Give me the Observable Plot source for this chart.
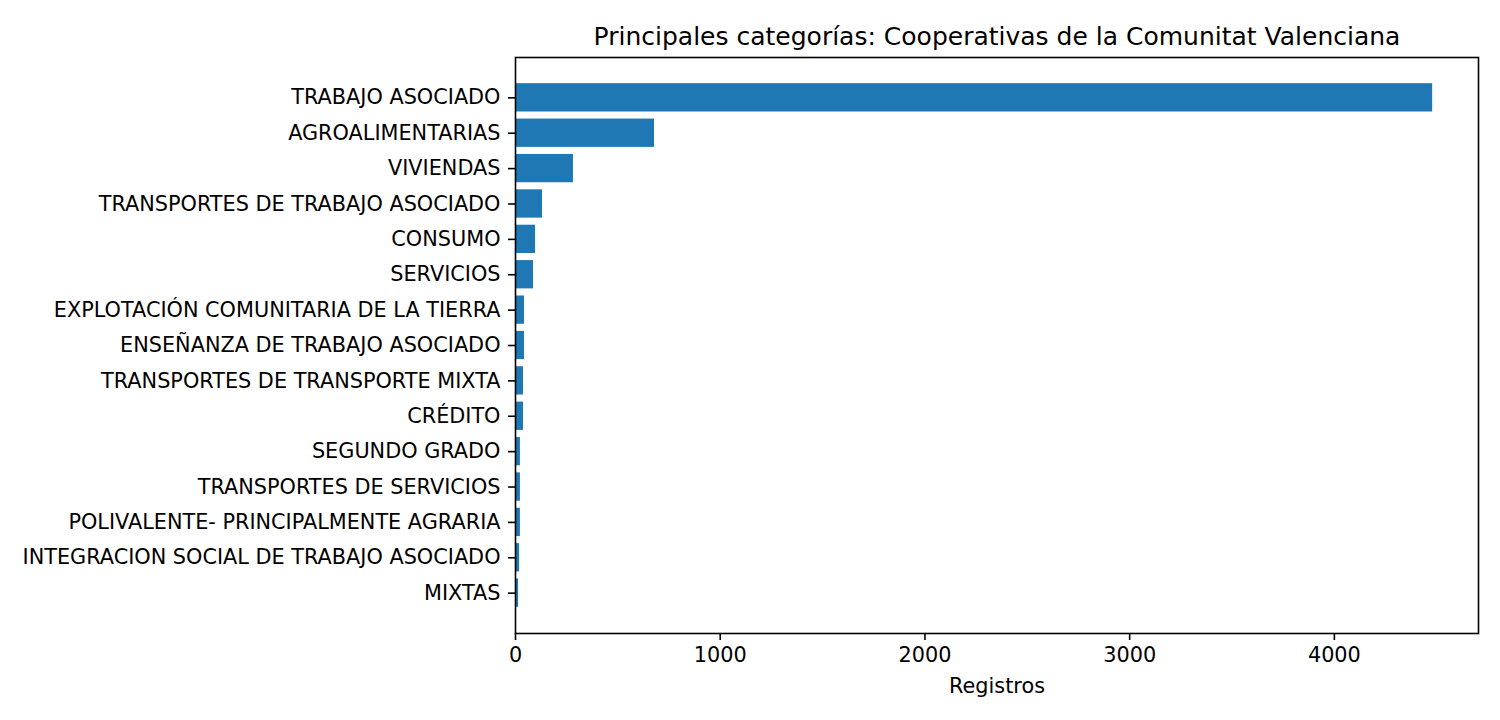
<!DOCTYPE html>
<html>
<head>
<meta charset="utf-8">
<script src="https://cdn.jsdelivr.net/npm/d3@7"></script>
<script src="https://cdn.jsdelivr.net/npm/@observablehq/plot@0.6"></script>
<style>
  html, body { margin: 0; padding: 0; background: #fff; }
  #chart svg { display: block; }
</style>
</head>
<body>
<div id="chart"></div>
<script>
const titleText = "Principales categorías: Cooperativas de la Comunitat Valenciana";
const xLabel = "Registros";
const categories = [
  "TRABAJO ASOCIADO",
  "AGROALIMENTARIAS",
  "VIVIENDAS",
  "TRANSPORTES DE TRABAJO ASOCIADO",
  "CONSUMO",
  "SERVICIOS",
  "EXPLOTACIÓN COMUNITARIA DE LA TIERRA",
  "ENSEÑANZA DE TRABAJO ASOCIADO",
  "TRANSPORTES DE TRANSPORTE MIXTA",
  "CRÉDITO",
  "SEGUNDO GRADO",
  "TRANSPORTES DE SERVICIOS",
  "POLIVALENTE- PRINCIPALMENTE AGRARIA",
  "INTEGRACION SOCIAL DE TRABAJO ASOCIADO",
  "MIXTAS"
];
const counts = [4480, 679, 283, 132, 98, 88, 44, 44, 39, 39, 24, 24, 24, 20, 15];
const xTicks = [0, 1000, 2000, 3000, 4000];

const rows = categories.map((c, i) => ({category: c, value: counts[i]}));
const xMax = d3.max(counts) * 1.05;

const chart = Plot.plot({
  width: 1500,
  height: 720,
  marginLeft: 515,
  marginRight: 22,
  marginTop: 57,
  marginBottom: 87,
  style: {fontFamily: "'DejaVu Sans', sans-serif", fontSize: "20.8px", color: "#000", background: "#fff"},
  x: {domain: [0, xMax]},
  y: {domain: categories, paddingInner: 0.2, paddingOuter: 0.74, align: 0.5, round: false},
  marks: [
    Plot.barX(rows, {x: "value", y: "category", fill: "#1f77b4"}),
    Plot.frame({stroke: "#000", strokeWidth: 1.6}),
    Plot.axisY({tickSize: 7, tickPadding: 8, fontSize: 20.8, strokeWidth: 1.6, label: null}),
    Plot.axisX({ticks: xTicks, tickFormat: d3.format("d"), tickSize: 7, tickPadding: 7, fontSize: 20.8, strokeWidth: 1.6, label: null}),
    Plot.text([xLabel], {text: d => d, frameAnchor: "bottom", dy: 59, lineAnchor: "bottom", fontSize: 20.8, fill: "#000"}),
    Plot.text([titleText], {text: d => d, frameAnchor: "top", dy: -12.5, lineAnchor: "bottom", fontSize: 25, fill: "#000"})
  ]
});
document.getElementById("chart").appendChild(chart);
</script>
</body>
</html>
